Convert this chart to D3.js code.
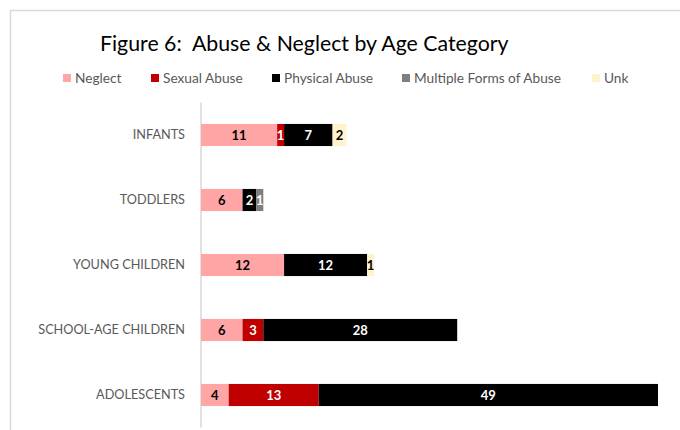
<!DOCTYPE html>
<html>
<head>
<meta charset="utf-8">
<script src="https://cdn.jsdelivr.net/npm/d3@7"></script>
<style>
  html, body { margin: 0; padding: 0; background: #fff; }
  svg { display: block; }
  .title { white-space: pre; }
</style>
</head>
<body>
<svg id="chart" width="680" height="430"></svg>
<script>
// Age categories, top to bottom
const categories = ["INFANTS", "TODDLERS", "YOUNG CHILDREN", "SCHOOL-AGE CHILDREN", "ADOLESCENTS"];

// Series names (legend order = stacking order)
const seriesNames = ["Neglect", "Sexual Abuse", "Physical Abuse", "Multiple Forms of Abuse", "Unk"];

// Case counts per category, one array per series
const neglect       = [11, 6, 12, 6, 4];
const sexualAbuse   = [1, 0, 0, 3, 13];
const physicalAbuse = [7, 2, 12, 28, 49];
const multipleForms = [0, 1, 0, 0, 0];
const unknown       = [2, 0, 1, 0, 0];

const seriesColors = ["#FFA5A5", "#C00000", "#000000", "#7F7F7F", "#FFF2CC"];
const labelColors  = ["#000000", "#FFFFFF", "#FFFFFF", "#FFFFFF", "#000000"];

const title = "Figure 6:  Abuse & Neglect by Age Category";

// Build rows for d3.stack
const seriesValues = [neglect, sexualAbuse, physicalAbuse, multipleForms, unknown];
const rows = categories.map((c, i) => {
  const r = { category: c };
  seriesNames.forEach((s, k) => { r[s] = seriesValues[k][i]; });
  return r;
});
const stacked = d3.stack().keys(seriesNames)(rows);

const svg = d3.select("#chart");
const font = "Lato, 'Open Sans', sans-serif";

// Chart frame
svg.append("rect")
  .attr("x", 10.5).attr("y", 10.5)
  .attr("width", 700).attr("height", 450)
  .attr("fill", "#fff")
  .attr("stroke", "#D9D9D9")
  .attr("stroke-width", 1.5);

// Title
svg.append("text")
  .attr("class", "title")
  .attr("x", 100).attr("y", 51)
  .attr("font-family", font)
  .attr("font-size", 21.3)
  .attr("fill", "#000")
  .text(title);

// Legend
const legendX = [63, 151, 272, 402, 592];
const legend = svg.append("g");
seriesNames.forEach((s, k) => {
  const g = legend.append("g").attr("transform", `translate(${legendX[k]},74)`);
  g.append("rect").attr("width", 8).attr("height", 8).attr("fill", seriesColors[k]);
  g.append("text")
    .attr("x", 12).attr("y", 8.7)
    .attr("font-family", font)
    .attr("font-size", 13.7)
    .attr("fill", "#595959")
    .text(s);
});

// Scales
const x = d3.scaleLinear().domain([0, 66]).range([201, 658]);
const y = d3.scaleBand().domain(categories).range([102.5, 427.5]).paddingInner(0.66).paddingOuter(0.33);

// Category axis
const yAxis = d3.axisLeft(y).tickSize(0).tickPadding(16);
const axisG = svg.append("g").attr("transform", `translate(${x(0)},0)`).call(yAxis);
axisG.select(".domain").attr("stroke", "#D9D9D9").attr("stroke-width", 1.5)
  .attr("d", `M0,102.5V427.5`);
axisG.selectAll(".tick text")
  .attr("font-family", font)
  .attr("font-size", 12.7)
  .attr("fill", "#595959");

// Stacked bars
const layers = svg.append("g").selectAll("g")
  .data(stacked).join("g")
  .attr("fill", (d, k) => seriesColors[k]);

layers.selectAll("rect")
  .data(d => d.filter(p => p[1] - p[0] > 0))
  .join("rect")
  .attr("x", d => x(d[0]))
  .attr("y", d => y(d.data.category))
  .attr("width", d => x(d[1]) - x(d[0]))
  .attr("height", y.bandwidth());

// Value labels centred in each segment
const labels = svg.append("g");
stacked.forEach((layer, k) => {
  labels.selectAll(null)
    .data(layer.filter(p => p[1] - p[0] > 0))
    .join("text")
    .attr("x", d => (x(d[0]) + x(d[1])) / 2)
    .attr("y", d => y(d.data.category) + y.bandwidth() / 2)
    .attr("dy", "0.36em")
    .attr("text-anchor", "middle")
    .attr("font-family", font)
    .attr("font-weight", "bold")
    .attr("font-size", 13)
    .attr("fill", labelColors[k])
    .text(d => d[1] - d[0]);
});
</script>
</body>
</html>
